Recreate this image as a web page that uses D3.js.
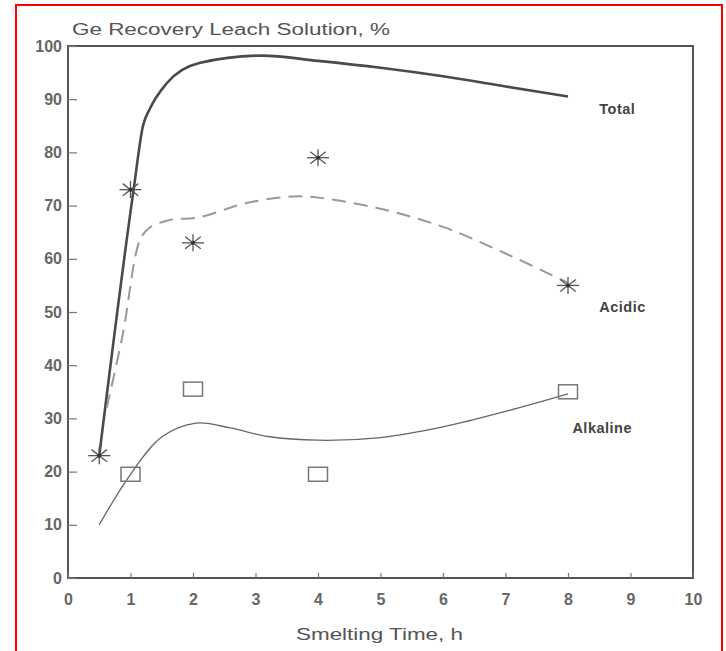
<!DOCTYPE html>
<html>
<head>
<meta charset="utf-8">
<script src="https://cdn.jsdelivr.net/npm/d3@7"></script>
<style>
  body { margin: 0; background: #fff; }
  svg { display: block; }
</style>
</head>
<body>
<script>
// values
var totalCurve = [[0.5, 23], [1.05, 73], [1.2, 85], [1.31, 88.2], [1.58, 93], [2.1, 96.8],
  [3.1, 98.2], [4, 97.2], [5, 95.9], [6, 94.3], [7, 92.4], [8, 90.5]];
var acidicCurve = [[0.62, 32], [0.88, 46], [1.15, 63.5], [1.3, 65.8], [1.63, 67.3], [2.1, 67.8],
  [2.86, 70.5], [3.6, 71.7], [4, 71.5], [5, 69.4], [6, 66], [7, 61], [8, 55.5]];
var alkalineCurve = [[0.5, 10], [1, 19.5], [1.5, 26.5], [2.05, 29.1], [2.6, 28.2], [3.2, 26.6],
  [4, 25.9], [5, 26.4], [6, 28.4], [7, 31.3], [8, 34.6]];
var starPoints = [[0.5, 23], [1, 73], [2, 63], [4, 79], [8, 55]];
var squarePoints = [[1, 19.5], [2, 35.5], [4, 19.5], [8, 35]];
var xTicks = [0, 1, 2, 3, 4, 5, 6, 7, 8, 9, 10];
var yTicks = [0, 10, 20, 30, 40, 50, 60, 70, 80, 90, 100];
var curveLabels = [["Total", 8.5, 87.3], ["Acidic", 8.5, 50], ["Alkaline", 8.07, 27.3]];

var W = 726, H = 651,
    padL = 68, padR = 693, padT = 46, padB = 578,
    ink = "#555";

var svg = d3.select("body").append("svg")
    .attr("width", W).attr("height", H)
    .style("font-family", "'Liberation Sans', Arial, sans-serif");

svg.append("rect")
    .attr("x", 16).attr("y", 5)
    .attr("width", 706).attr("height", 700)
    .attr("fill", "none").attr("stroke", "#f00").attr("stroke-width", 2);

var x = d3.scaleLinear().domain([0, 10]).range([padL, padR]);
var y = d3.scaleLinear().domain([0, 100]).range([padB, padT]);

// frame
svg.append("rect")
    .attr("x", padL).attr("y", padT)
    .attr("width", padR - padL).attr("height", padB - padT)
    .attr("fill", "none").attr("stroke", ink).attr("stroke-width", 2);

var xAxis = svg.append("g")
    .attr("transform", "translate(0," + padB + ")")
    .call(d3.axisBottom(x).tickValues(xTicks).tickSize(-5).tickPadding(16).tickFormat(d3.format("d")));
var yAxis = svg.append("g")
    .attr("transform", "translate(" + padL + ",0)")
    .call(d3.axisLeft(y).tickValues(yTicks).tickSize(-9).tickPadding(6).tickFormat(d3.format("d")));

[xAxis, yAxis].forEach(function(g) {
    g.select(".domain").remove();
    g.selectAll("line").attr("stroke", "#777").attr("stroke-width", 1.2);
    g.selectAll("text").attr("fill", "#666").style("font-size", "16px")
        .style("font-weight", "bold")
        .style("font-family", "'Liberation Sans', Arial, sans-serif");
});

svg.append("text")
    .attr("x", 72).attr("y", 35)
    .attr("textLength", 318).attr("lengthAdjust", "spacingAndGlyphs")
    .attr("fill", ink).style("font-size", "16px")
    .text("Ge Recovery Leach Solution, %");

svg.append("text")
    .attr("x", 296).attr("y", 640)
    .attr("textLength", 167).attr("lengthAdjust", "spacingAndGlyphs")
    .attr("fill", ink).style("font-size", "16.5px")
    .text("Smelting Time, h");

var line = d3.line()
    .x(function(d) { return x(d[0]); })
    .y(function(d) { return y(d[1]); });

svg.append("path").datum(totalCurve)
    .attr("d", line.curve(d3.curveMonotoneX)).attr("fill", "none")
    .attr("stroke", "#4a4a4a").attr("stroke-width", 2.6);
svg.append("path").datum(acidicCurve)
    .attr("d", line.curve(d3.curveCatmullRom)).attr("fill", "none")
    .attr("stroke", "#999").attr("stroke-width", 2)
    .attr("stroke-dasharray", "14,8");
svg.append("path").datum(alkalineCurve)
    .attr("d", line.curve(d3.curveCatmullRom)).attr("fill", "none")
    .attr("stroke", "#666").attr("stroke-width", 1.3);

// asterisk markers
var stars = svg.selectAll(".star").data(starPoints).enter().append("g")
    .attr("class", "star")
    .attr("transform", function(d) { return "translate(" + x(d[0]) + "," + y(d[1]) + ")"; });
[0, 45, 90, 135].forEach(function(a) {
    var r = a * Math.PI / 180;
    stars.append("line")
        .attr("x1", -11 * Math.cos(r)).attr("y1", -8.5 * Math.sin(r))
        .attr("x2", 11 * Math.cos(r)).attr("y2", 8.5 * Math.sin(r))
        .attr("stroke", "#555").attr("stroke-width", 1.3);
});
stars.append("circle").attr("r", 2).attr("fill", "#333");

// square markers
svg.selectAll(".sq").data(squarePoints).enter().append("rect")
    .attr("class", "sq")
    .attr("x", function(d) { return x(d[0]) - 9.5; })
    .attr("y", function(d) { return y(d[1]) - 7; })
    .attr("width", 19).attr("height", 14)
    .attr("fill", "none").attr("stroke", "#777").attr("stroke-width", 1.5);

svg.selectAll(".lbl").data(curveLabels).enter().append("text")
    .attr("x", function(d) { return x(d[1]); })
    .attr("y", function(d) { return y(d[2]); })
    .attr("fill", "#444").style("font-size", "14.5px").style("font-weight", "bold")
    .style("letter-spacing", "0.5px")
    .text(function(d) { return d[0]; });
</script>
</body>
</html>
